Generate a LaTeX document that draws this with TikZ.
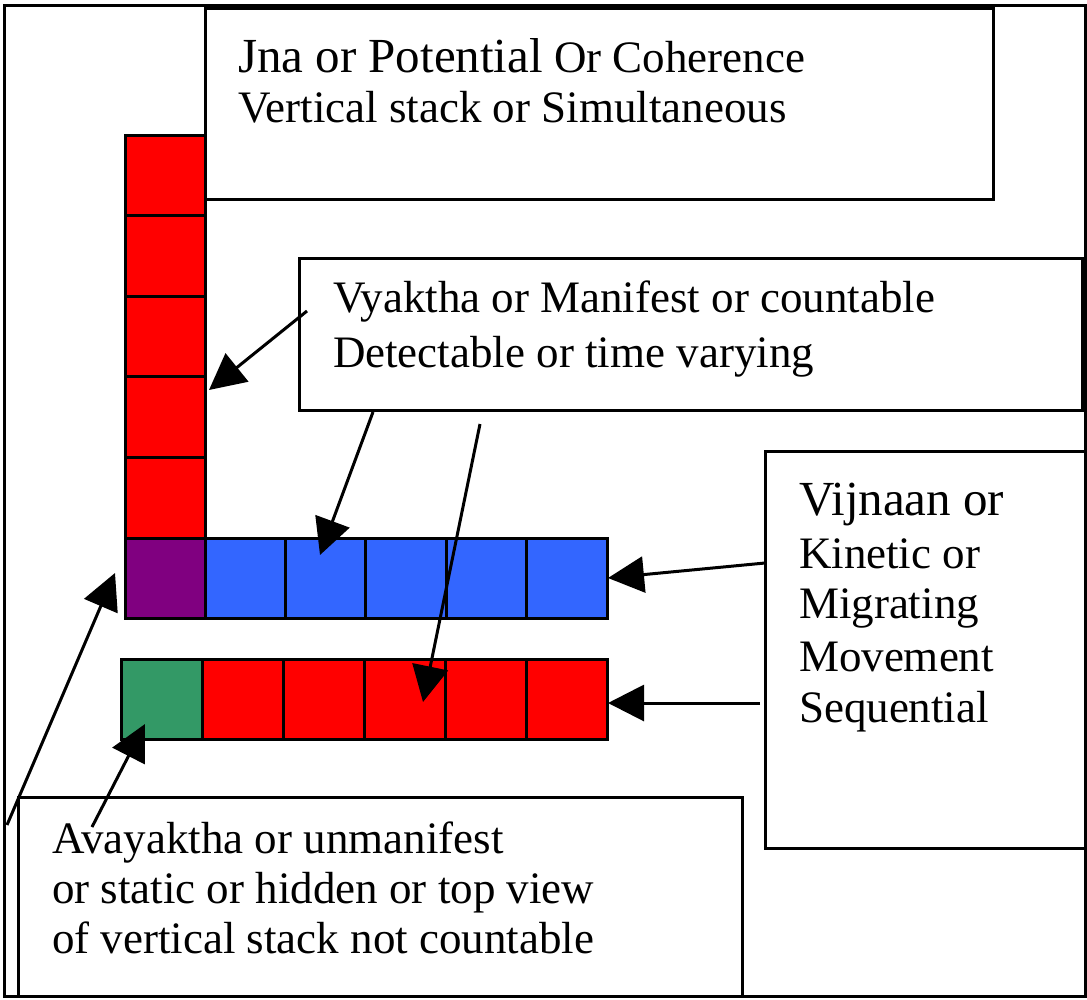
\documentclass[tikz,border=0pt]{standalone}
\usepackage{fontspec}
\setmainfont{Liberation Serif}
\usetikzlibrary{arrows.meta}
\definecolor{sqred}{HTML}{FF0000}
\definecolor{sqblue}{HTML}{3366FF}
\definecolor{sqpurple}{HTML}{800080}
\definecolor{sqgreen}{HTML}{339966}
\tikzset{
  box/.style={draw=black, line width=3pt, fill=white, inner sep=0pt, outer sep=0pt, anchor=north west},
  sq/.style={draw=black, line width=3pt, inner sep=0pt, outer sep=0pt},
  txt/.style={anchor=base west, inner sep=0pt, outer sep=0pt, font=\fontsize{45}{52}\selectfont},
  arr/.style={line width=3pt, -{Triangle[length=36pt,width=36pt]}},
}
\begin{document}
\begin{tikzpicture}[x=1pt,y=-1pt]
\useasboundingbox (0,0) rectangle (1087,999);
% outer frame
\draw[line width=3pt] (4,5) rectangle (1085,996);
% text boxes
\node[box, minimum width=788, minimum height=191] (jna) at (205,8) {};
\node[box, minimum width=783, minimum height=152] (vya) at (299,258) {};
\node[box, minimum width=320, minimum height=397] (vij) at (765,451) {};
\node[box, minimum width=724, minimum height=199] (ava) at (18,797) {};
% texts
\node[txt] (jna1) at (238,72) {{\fontsize{49}{58}\selectfont Jna or Potential} Or Coherence};
\node[txt] (jna2) at (238,122) {Vertical stack or Simultaneous};
\node[txt] (vya1) at (333,312) {Vyaktha or Manifest or countable};
\node[txt] (vya2) at (333,367) {Detectable or time varying};
\node[txt] (vij1) at (799,515) {\fontsize{49}{58}\selectfont Vijnaan or};
\node[txt] (vij2) at (799,568) {Kinetic or};
\node[txt] (vij3) at (799,618) {Migrating};
\node[txt] (vij4) at (799,671) {Movement};
\node[txt] (vij5) at (799,722) {Sequential};
\node[txt] (ava1) at (52,853) {Avayaktha or unmanifest};
\node[txt] (ava2) at (52,903) {or static or hidden or top view};
\node[txt] (ava3) at (52,953) {of vertical stack not countable};
% vertical red stack
\foreach \i in {1,...,5} {
  \node[sq, fill=sqred, minimum width=80, minimum height=80.6] (v\i) at (165,{135+80.6*(\i-0.5)}) {};
}
% purple + blue row
\node[sq, fill=sqpurple, minimum width=80, minimum height=80] (p0) at (165,578) {};
\foreach \i in {1,...,5} {
  \node[sq, fill=sqblue, minimum width=80.4, minimum height=80] (b\i) at ({205+80.4*(\i-0.5)},578) {};
}
% green + red row
\node[sq, fill=sqgreen, minimum width=81, minimum height=80] (g0) at (161.5,699) {};
\foreach \i in {1,...,5} {
  \node[sq, fill=sqred, minimum width=81, minimum height=80] (r\i) at ({202+81*(\i-0.5)},699) {};
}
% arrow ends
\coordinate (a1s) at (307,311);  \coordinate (a1t) at (209,390);
\coordinate (a2s) at (373,412);  \coordinate (a2t) at (320,555);
\coordinate (a3s) at (480,424);  \coordinate (a3t) at (423,702);
\coordinate (a4s) at (765,563);  \coordinate (a4t) at (608,578);
\coordinate (a5s) at (760,703);  \coordinate (a5t) at (608,703);
\coordinate (a6s) at (7,825);    \coordinate (a6t) at (115,573);
\coordinate (a7s) at (92,827);   \coordinate (a7t) at (145,724);
\draw[arr] (a1s) -- (a1t);
\draw[arr] (a2s) -- (a2t);
\draw[arr] (a3s) -- (a3t);
\draw[arr] (a4s) -- (a4t);
\draw[arr] (a5s) -- (a5t);
\draw[arr] (a6s) -- (a6t);
\draw[arr] (a7s) -- (a7t);
\end{tikzpicture}
\end{document}
